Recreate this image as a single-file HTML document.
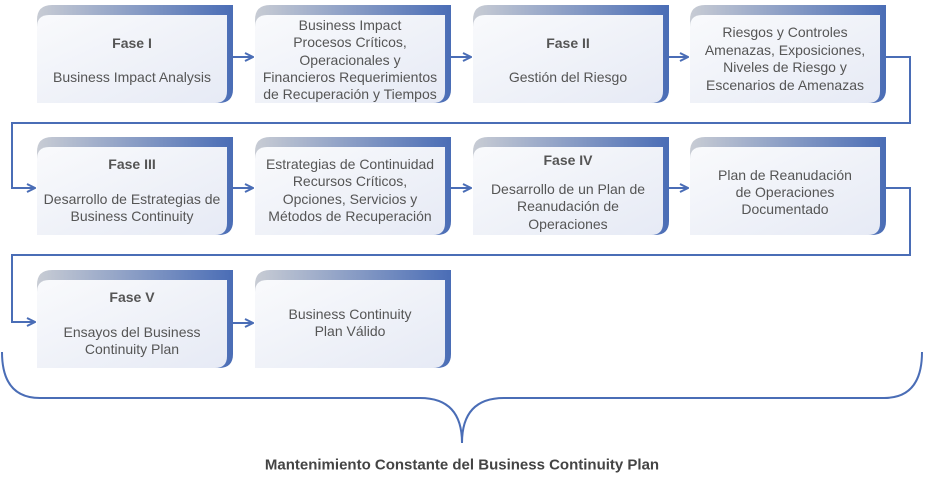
<!DOCTYPE html>
<html><head><meta charset="utf-8"><style>
html,body{margin:0;padding:0;background:#fff;}
svg text{font-family:"Liberation Sans",sans-serif;font-size:14px;fill:#555;text-anchor:middle;dominant-baseline:central;}
svg text.b{font-weight:bold;}
</style></head><body>
<svg width="925" height="480" viewBox="0 0 925 480" xmlns="http://www.w3.org/2000/svg">
<defs>
<linearGradient id="og" x1="0" y1="0" x2="1" y2="0"><stop offset="0" stop-color="#c8ccd4"/><stop offset="1" stop-color="#4a6db6"/></linearGradient>
<linearGradient id="ig" x1="0" y1="0" x2="1" y2="1"><stop offset="0" stop-color="#f9fafc"/><stop offset="1" stop-color="#e6eaf5"/></linearGradient>
<marker id="ar" markerWidth="10" markerHeight="10" refX="9" refY="5" orient="auto" markerUnits="userSpaceOnUse"><path d="M1,1 L9,5 L1,9" fill="none" stroke="#4a6db6" stroke-width="2"/></marker>
<g id="box">
<path d="M15,0 H196 V84 Q196,98 182,98 H0 V15 Q0,0 15,0 Z" fill="url(#og)"/>
<path d="M12,10 H190 V86 Q190,98 178,98 H0 V22 Q0,10 12,10 Z" fill="url(#ig)"/>
</g>
</defs>
<g fill="none" stroke="#4a6db6" stroke-width="2">
<path d="M233,57 H253" marker-end="url(#ar)"/>
<path d="M451,57 H471" marker-end="url(#ar)"/>
<path d="M669,57 H688" marker-end="url(#ar)"/>
<path d="M886,57 H910 V123 H12 V188 H35" marker-end="url(#ar)"/>
<path d="M233,188 H253" marker-end="url(#ar)"/>
<path d="M451,188 H471" marker-end="url(#ar)"/>
<path d="M669,188 H688" marker-end="url(#ar)"/>
<path d="M886,188 H910 V255 H12 V322 H35" marker-end="url(#ar)"/>
<path d="M233,323 H253" marker-end="url(#ar)"/>
<path d="M2,352 Q2,398 40,398 H420 Q462,398 462,443 Q462,398 504,398 H884 Q922,398 922,352"/>
</g>
<use href="#box" x="37" y="5"/><use href="#box" x="255" y="5"/><use href="#box" x="473" y="5"/><use href="#box" x="690" y="5"/>
<use href="#box" x="37" y="137"/><use href="#box" x="255" y="137"/><use href="#box" x="473" y="137"/><use href="#box" x="690" y="137"/>
<use href="#box" x="37" y="270"/><use href="#box" x="255" y="270"/>
<text class="b" x="132" y="43">Fase I</text><text x="132" y="77">Business Impact Analysis</text>
<text x="350" y="25">Business Impact</text><text x="350" y="42">Procesos Críticos,</text><text x="350" y="60">Operacionales y</text><text x="350" y="77">Financieros Requerimientos</text><text x="350" y="94">de Recuperación y Tiempos</text>
<text class="b" x="568" y="43">Fase II</text><text x="568" y="77">Gestión del Riesgo</text>
<text x="785" y="32">Riesgos y Controles</text><text x="785" y="50">Amenazas, Exposiciones,</text><text x="785" y="67">Niveles de Riesgo y</text><text x="785" y="85">Escenarios de Amenazas</text>
<text class="b" x="132" y="164">Fase III</text><text x="132" y="199">Desarrollo de Estrategias de</text><text x="132" y="216">Business Continuity</text>
<text x="350" y="164">Estrategias de Continuidad</text><text x="350" y="181">Recursos Críticos,</text><text x="350" y="199">Opciones, Servicios y</text><text x="350" y="216">Métodos de Recuperación</text>
<text class="b" x="568" y="160">Fase IV</text><text x="568" y="189">Desarrollo de un Plan de</text><text x="568" y="206">Reanudación de</text><text x="568" y="224">Operaciones</text>
<text x="785" y="175">Plan de Reanudación</text><text x="785" y="192">de Operaciones</text><text x="785" y="209">Documentado</text>
<text class="b" x="132" y="297">Fase V</text><text x="132" y="332">Ensayos del Business</text><text x="132" y="349">Continuity Plan</text>
<text x="350" y="314">Business Continuity</text><text x="350" y="331">Plan Válido</text>
<text class="b" x="462" y="465" style="font-size:15px;fill:#444">Mantenimiento Constante del Business Continuity Plan</text>
</svg>
</body></html>
